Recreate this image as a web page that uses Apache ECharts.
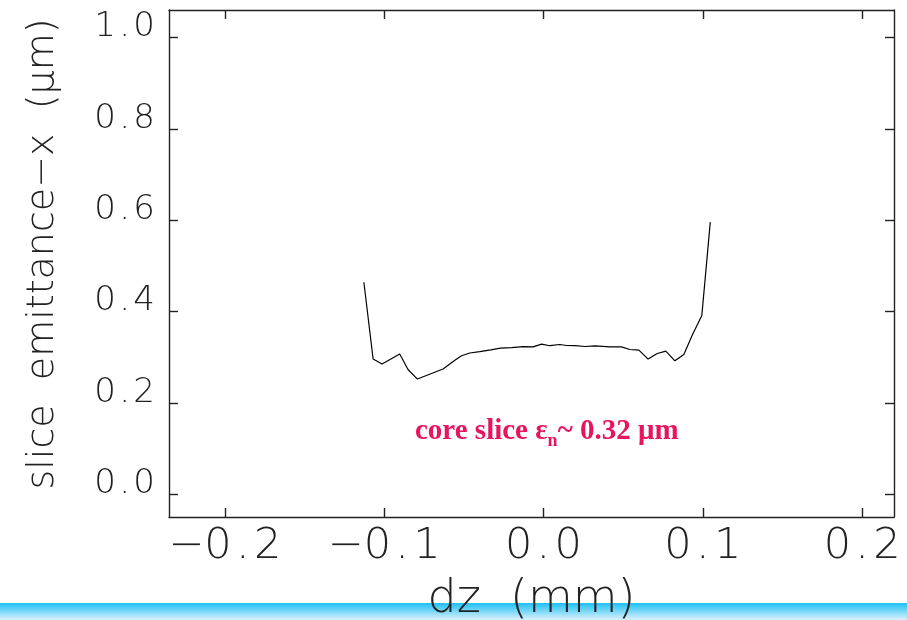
<!DOCTYPE html>
<html><head><meta charset="utf-8">
<script src="https://cdn.jsdelivr.net/npm/echarts@6/dist/echarts.min.js"></script>
<style>html,body{margin:0;padding:0;background:#fff}#main{width:907px;height:620px}</style>
</head><body><div id="main"></div>
<script>
// ---- data ----
const dz = [-0.1127,-0.1069,-0.1013,-0.0902,-0.0850,-0.0791,-0.0630,-0.0556,-0.0514,-0.0462,-0.0400,-0.0330,-0.0270,-0.0200,-0.0128,-0.0065,-0.0012,0.0040,0.0103,0.0145,0.0200,0.0260,0.0323,0.0417,0.0490,0.0542,0.0599,0.0657,0.0714,0.0768,0.0825,0.0881,0.0935,0.0994,0.1047];
const emitX = [0.464,0.296,0.285,0.307,0.273,0.252,0.274,0.293,0.303,0.309,0.312,0.316,0.3197,0.321,0.323,0.3226,0.3285,0.325,0.3277,0.3255,0.325,0.3233,0.3248,0.3226,0.3226,0.3167,0.3154,0.2957,0.308,0.313,0.292,0.3058,0.349,0.391,0.5957];
const xTicks = [-0.2,-0.1,0.0,0.1,0.2];
const yTicks = [0.0,0.2,0.4,0.6,0.8,1.0];
const xName = 'dz  (mm)';
const yName = 'slice  emittance\u2212x  (μm)';
const noteParts = ['core slice ε', 'n', '~ 0.32 μm'];

const FONT = 'DejaVu Sans';
const INK = '#222';
const fmt = v => (v < 0 ? '\u2212' : '') + Math.abs(v).toFixed(1).replace('.', '\u200A.\u200A');

const chart = echarts.init(document.getElementById('main'), null, {renderer: 'canvas'});
const lineStyle = {color: INK, width: 1.4};
const baseX = {type: 'value', min: -0.235, max: 0.22, splitLine: {show: false},
  axisLine: {show: true, onZero: false, lineStyle},
  axisTick: {show: true, inside: true, length: 9, lineStyle, customValues: xTicks}};
const baseY = {type: 'value', min: -0.05, max: 1.06, splitLine: {show: false},
  axisLine: {show: true, onZero: false, lineStyle},
  axisTick: {show: true, inside: true, length: 9, lineStyle, customValues: yTicks}};

chart.setOption({
  animation: false,
  backgroundColor: '#fff',
  grid: {left: 169, top: 10, width: 725, height: 507, containLabel: false, outerBoundsMode: 'none'},
  xAxis: [
    Object.assign({}, baseX, {position: 'bottom',
      name: xName, nameLocation: 'middle', nameGap: 60,
      nameTextStyle: {fontFamily: FONT, fontWeight: 200, fontSize: 46, color: INK},
      axisLabel: {show: true, customValues: xTicks, formatter: fmt, margin: 8,
        fontFamily: FONT, fontWeight: 200, fontSize: 43, color: INK}}),
    Object.assign({}, baseX, {position: 'top', axisLabel: {show: false}})
  ],
  yAxis: [
    Object.assign({}, baseY, {position: 'left',
      name: yName, nameLocation: 'middle', nameGap: 107, nameRotate: 90,
      nameTextStyle: {fontFamily: FONT, fontWeight: 200, fontSize: 38, color: INK, padding: [0, 0, 0, 19]},
      axisLabel: {show: true, customValues: yTicks, formatter: fmt, margin: 14,
        verticalAlign: 'bottom', lineHeight: 20,
        fontFamily: FONT, fontWeight: 200, fontSize: 34, color: INK}}),
    Object.assign({}, baseY, {position: 'right', axisLabel: {show: false}})
  ],
  graphic: [
    {type: 'rect', z: -10, shape: {x: 0, y: 603, width: 907, height: 17},
      style: {fill: new echarts.graphic.LinearGradient(0, 0, 0, 1, [
        {offset: 0, color: '#1CC0F4'}, {offset: 1, color: '#DDF2FC'}])}},
    {type: 'text', left: 415, top: 417, z: 50,
      style: {
        text: '{a|' + noteParts[0] + '}{s|' + noteParts[1] + '}{a|' + noteParts[2] + '}',
        rich: {
          a: {fontFamily: 'Liberation Serif', fontWeight: 'bold', fontSize: 29, fill: '#E8145F', lineHeight: 31, verticalAlign: 'top'},
          s: {fontFamily: 'Liberation Serif', fontWeight: 'bold', fontSize: 18, fill: '#E8145F', lineHeight: 18, verticalAlign: 'top', padding: [15, 0, 0, 0]}
        }
      }}
  ],
  series: [{
    type: 'line', xAxisIndex: 0, yAxisIndex: 0,
    data: dz.map((x, i) => [x, emitX[i]]),
    showSymbol: false, symbol: 'none',
    lineStyle: {color: '#000', width: 1.2},
    z: 5
  }]
});
</script></body></html>
